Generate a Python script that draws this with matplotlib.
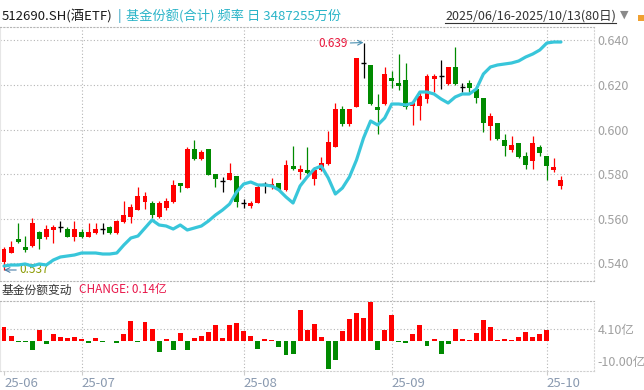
import matplotlib
matplotlib.use("Agg")
import matplotlib.pyplot as plt
from matplotlib.lines import Line2D
from matplotlib.patches import Rectangle
import matplotlib.transforms as mtransforms
import numpy as np
import pandas as pd

plt.rcParams['font.family'] = ['Noto Sans CJK SC', 'DejaVu Sans']

# ---------------- data ----------------
all_days = pd.bdate_range('2025-06-16', '2025-10-13')
dates = [d for d in all_days
         if not (pd.Timestamp('2025-10-01') <= d <= pd.Timestamp('2025-10-08'))]

open_ = [0.5406, 0.5447, 0.5511, 0.5471, 0.5477, 0.5541, 0.5517, 0.5550, 0.5561, 0.5553,
         0.5520, 0.5541, 0.5519, 0.5537, 0.5553, 0.5561, 0.5535, 0.5585, 0.5607, 0.5640,
         0.5675, 0.5669, 0.5607, 0.5648, 0.5675, 0.5759, 0.5738, 0.5912, 0.5868, 0.5912,
         0.5799, 0.5771, 0.5775, 0.5792, 0.5670, 0.5659, 0.5670, 0.5755, 0.5740, 0.5760,
         0.5730, 0.5838, 0.5809, 0.5818, 0.5779, 0.5817, 0.5845, 0.5920, 0.6093, 0.6026,
         0.6100, 0.6297, 0.6289, 0.6100, 0.6114, 0.6231, 0.6207, 0.6222, 0.6105, 0.6105,
         0.6138, 0.6226, 0.6238, 0.6204, 0.6280, 0.6191, 0.6207, 0.6181, 0.6142, 0.6017,
         0.6029, 0.5953, 0.5908, 0.5939, 0.5879, 0.5860, 0.5920, 0.5881, 0.5818, 0.5746]
high_ = [0.5474, 0.5501, 0.5582, 0.5522, 0.5601, 0.5545, 0.5571, 0.5571, 0.5588, 0.5564,
         0.5589, 0.5553, 0.5582, 0.5582, 0.5580, 0.5568, 0.5592, 0.5679, 0.5667, 0.5742,
         0.5720, 0.5679, 0.5679, 0.5691, 0.5772, 0.5759, 0.5922, 0.5952, 0.5910, 0.5912,
         0.5799, 0.5789, 0.5849, 0.5792, 0.5689, 0.5681, 0.5752, 0.5763, 0.5782, 0.5760,
         0.5864, 0.5924, 0.5842, 0.5920, 0.5832, 0.5875, 0.5992, 0.6119, 0.6104, 0.6093,
         0.6320, 0.6390, 0.6289, 0.6159, 0.6280, 0.6264, 0.6339, 0.6298, 0.6124, 0.6169,
         0.6249, 0.6249, 0.6312, 0.6280, 0.6369, 0.6208, 0.6222, 0.6181, 0.6142, 0.6073,
         0.6029, 0.5980, 0.5971, 0.5939, 0.5897, 0.5971, 0.5930, 0.5881, 0.5872, 0.5791]
low_ = [0.5370, 0.5444, 0.5492, 0.5451, 0.5471, 0.5465, 0.5511, 0.5492, 0.5540, 0.5516,
        0.5501, 0.5513, 0.5516, 0.5531, 0.5531, 0.5531, 0.5533, 0.5580, 0.5580, 0.5637,
        0.5643, 0.5604, 0.5604, 0.5640, 0.5670, 0.5720, 0.5738, 0.5862, 0.5862, 0.5796,
        0.5742, 0.5719, 0.5772, 0.5652, 0.5648, 0.5648, 0.5670, 0.5715, 0.5734, 0.5722,
        0.5722, 0.5818, 0.5780, 0.5800, 0.5752, 0.5812, 0.5842, 0.5920, 0.6014, 0.6014,
        0.6100, 0.6232, 0.6109, 0.5981, 0.6109, 0.6184, 0.6175, 0.6091, 0.6020, 0.6042,
        0.6117, 0.6169, 0.6181, 0.6199, 0.6199, 0.6167, 0.6166, 0.6121, 0.5990, 0.5953,
        0.5953, 0.5882, 0.5900, 0.5870, 0.5824, 0.5824, 0.5881, 0.5773, 0.5810, 0.5733]
close_ = [0.5462, 0.5471, 0.5496, 0.5459, 0.5580, 0.5510, 0.5553, 0.5562, 0.5561, 0.5520,
          0.5553, 0.5519, 0.5541, 0.5553, 0.5553, 0.5537, 0.5588, 0.5618, 0.5651, 0.5700,
          0.5700, 0.5616, 0.5669, 0.5678, 0.5750, 0.5747, 0.5912, 0.5868, 0.5898, 0.5796,
          0.5777, 0.5771, 0.5807, 0.5676, 0.5670, 0.5670, 0.5740, 0.5755, 0.5757, 0.5730,
          0.5842, 0.5825, 0.5824, 0.5803, 0.5818, 0.5852, 0.5942, 0.6093, 0.6026, 0.6093,
          0.6319, 0.6297, 0.6114, 0.6088, 0.6249, 0.6219, 0.6196, 0.6099, 0.6117, 0.6150,
          0.6240, 0.6240, 0.6238, 0.6280, 0.6204, 0.6191, 0.6188, 0.6140, 0.6028, 0.6061,
          0.5957, 0.5927, 0.5930, 0.5876, 0.5839, 0.5939, 0.5894, 0.5836, 0.5831, 0.5773]

# fund shares total (亿份)
share_total = [214.60, 215.20, 215.20, 215.80, 214.60, 215.80, 215.20, 218.19, 219.99, 220.59,
               221.19, 222.38, 222.38, 222.38, 221.78, 221.78, 222.38, 227.17, 231.36, 232.56,
               237.35, 242.14, 239.15, 238.55, 236.75, 239.15, 236.16, 237.35, 238.55, 241.54,
               245.14, 248.13, 251.72, 258.91, 263.70, 264.90, 263.10, 263.10, 262.50, 260.11,
               255.92, 252.32, 262.50, 267.89, 272.68, 274.48, 267.29, 257.71, 261.30, 267.89,
               278.07, 291.24, 301.42, 299.03, 303.22, 311.60, 311.60, 311.01, 312.20, 318.79,
               318.79, 317.59, 314.60, 312.20, 315.80, 317.59, 317.59, 320.59, 329.57, 333.76,
               334.96, 335.56, 336.16, 337.35, 339.75, 341.54, 343.94, 348.13, 348.73, 348.73]

# daily change of fund shares (亿份); last day not yet published
share_change = [4.77, 1.88, -0.33, -0.33, -3.00, 3.88, -1.00, 2.55, 1.55, 1.22,
                1.55, 0.78, -0.67, 1.22, -0.33, 0.20, -0.55, 2.55, 6.87, -0.33,
                6.54, 4.20, -3.66, 0.89, -3.00, 2.88, -3.00, 1.22, 1.88, 3.22,
                5.32, 1.22, 5.32, 5.99, 3.55, 1.88, -2.66, 0.89, 0.55, -2.00,
                -4.66, -4.32, 10.50, 3.88, 5.88, 1.55, -9.31, -6.32, 3.55, 7.54,
                9.53, 7.87, 13.20, -3.00, 3.88, 8.87, -0.33, -0.67, 2.55, 5.54,
                -1.66, 0.89, -4.32, -1.00, 4.20, 0.78, 0.55, 2.88, 7.20, 4.77,
                0.55, 0.89, 0.55, 1.55, 3.22, 1.55, 2.55, 3.88, 0.14, np.nan]

price_ticks = [0.540, 0.560, 0.580, 0.600, 0.620, 0.640]
change_ticks = [4.10]

# ---------------- layout ----------------
W, H = 644, 390
fig = plt.figure(figsize=(W / 100, H / 100), dpi=100)


def fx(px):
    return px / W


def fy(py):
    return 1 - py / H


MAIN_TOP, MAIN_BOT = 26.5, 281
SUB_TOP, SUB_BOT = 301, 371
RIGHT = 594

ax = fig.add_axes([0, fy(MAIN_BOT), fx(RIGHT), (MAIN_BOT - MAIN_TOP) / H])
ax2 = fig.add_axes([0, fy(SUB_BOT), fx(RIGHT), (SUB_BOT - SUB_TOP) / H])
axb = ax.twinx()

UP, DOWN, FLAT = '#ff0000', '#008a00', '#000000'
CYAN = '#38c6da'
GRID = '#b5b5b5'
DOT = (0, (1, 2))

x = np.arange(len(dates))
o = np.array(open_)
h = np.array(high_)
l = np.array(low_)
c = np.array(close_)

cols = [UP if cc > oo else (DOWN if cc < oo else FLAT) for oo, cc in zip(o, c)]

# wicks
ax.vlines(x, l, h, colors=cols, linewidth=0.9, zorder=3)
# bodies
body_bot = np.minimum(o, c)
body_h = np.abs(c - o)
ax.bar(x, body_h, bottom=body_bot, width=0.7, color=cols, linewidth=0, zorder=4)
doji = c == o
ax.hlines(o[doji], x[doji] - 0.35, x[doji] + 0.35, colors=FLAT, linewidth=1.0, zorder=4)

ax.set_xlim(-0.567, 83.69)
ax.set_ylim(0.540 - (281 - 263.3) / 2230, 0.640 + (40.3 - 26.5) / 2230)
ax.set_yticks(price_ticks)
ax.set_yticklabels([f'{v:.3f}' for v in price_ticks])
ax.yaxis.tick_right()
ax.yaxis.set_label_position('right')
ax.tick_params(axis='y', which='both', left=False, labelleft=False, right=False,
               labelright=True, length=0, pad=2.5, labelsize=9, labelcolor='#a0a0a0')
ax.set_xticks([])
ax.grid(axis='y', linestyle=DOT, color=GRID, linewidth=0.8)
ax.set_axisbelow(True)
for s in ('top', 'bottom', 'right'):
    ax.spines[s].set_linestyle(DOT)
    ax.spines[s].set_color(GRID)
    ax.spines[s].set_linewidth(0.8)
ax.spines['right'].set_color('#d5d5d5')
ax.spines['left'].set_color('#e6e6e6')

# month separators
month_idx = [0] + [i for i in range(1, len(dates)) if dates[i].month != dates[i - 1].month]
month_lbl = [dates[i].strftime('%y-%m') for i in month_idx]
gap = (SUB_TOP - MAIN_BOT) / (MAIN_BOT - MAIN_TOP)
for m in month_idx[1:]:
    ax.axvline(m, ymin=-gap, ymax=1, clip_on=False, linestyle=DOT, color=GRID,
               linewidth=0.8, zorder=1)
    ax2.axvline(m, linestyle=DOT, color=GRID, linewidth=0.8, zorder=1)

# fund share total line (hidden secondary axis)
axb.plot(x, share_total, color=CYAN, linewidth=2.3, solid_capstyle='round', zorder=5)
axb.set_ylim(348.73 - (281 - 42) / 1.67, 348.73 + (42 - 26.5) / 1.67)
axb.axis('off')

# high / low markers
hi = int(np.argmax(h))
lo = int(np.argmin(l))
axb.annotate(f'{h[hi]:.3f}', xy=(hi, h[hi]), xycoords=ax.transData,
             xytext=(-16, -1), textcoords='offset pixels', ha='right', va='center',
             fontsize=8.5, color='#e8173c', annotation_clip=False,
             arrowprops=dict(arrowstyle='->', color='#4a8fb0', lw=0.8,
                             shrinkA=0, shrinkB=0))
axb.annotate(f'{l[lo]:.3f}', xy=(lo, l[lo]), xycoords=ax.transData,
             xytext=(15, 0), textcoords='offset pixels', ha='left', va='center',
             fontsize=8.5, color='#8a9a00', annotation_clip=False,
             arrowprops=dict(arrowstyle='->', color='#4a7fa8', lw=0.8,
                             shrinkA=0, shrinkB=0))

# ---------------- change sub-panel ----------------
chg = np.array(share_change, dtype=float)
valid = ~np.isnan(chg)
bcols = [UP if v >= 0 else DOWN for v in chg[valid]]
ax2.bar(x[valid], chg[valid], width=0.7, color=bcols, linewidth=0, zorder=3)
ax2.set_xlim(-0.567, 83.69)
ax2.set_ylim(-10, 13.48)
ax2.set_yticks(change_ticks)
ax2.set_yticklabels([f'{v:.2f}亿' for v in change_ticks])
ax2.yaxis.tick_right()
ax2.tick_params(axis='y', length=0, pad=2.5, labelsize=9, labelcolor='#a0a0a0')
ax2.grid(axis='y', linestyle=DOT, color=GRID, linewidth=0.8)
ax2.set_axisbelow(True)
ax2.set_xticks(month_idx)
ax2.set_xticklabels(month_lbl, ha='left')
ax2.tick_params(axis='x', length=3, color='#cccccc', labelsize=9.5,
                labelcolor='#8a9ab0', pad=1.5)
for s in ('top', 'bottom', 'right'):
    ax2.spines[s].set_linestyle(DOT)
    ax2.spines[s].set_color(GRID)
    ax2.spines[s].set_linewidth(0.8)
ax2.spines['bottom'].set_color('#d0d0d0')
ax2.spines['right'].set_color('#d5d5d5')
ax2.spines['left'].set_color('#e6e6e6')
off = mtransforms.ScaledTranslation(3 / 100, 2 / 100, fig.dpi_scale_trans)
ax2.text(1.0, -10, '-10.00亿', transform=ax2.get_yaxis_transform() + off,
         ha='left', va='bottom', fontsize=9, color='#a0a0a0', clip_on=False)

# ---------------- header texts ----------------
fig.text(fx(2), fy(16), '512690.SH(酒ETF)', ha='left', va='center',
         fontsize=9.5, color='#1a1a1a')
fig.text(fx(119), fy(16), '|', ha='center', va='center', fontsize=9.5, color='#2a9fc0')
fig.text(fx(126), fy(16), '基金份额(合计) 频率 日 3487255万份', ha='left', va='center',
         fontsize=9.5, color='#2ab4c8')
date_txt = fig.text(fx(616), fy(16),
                    f'{dates[0]:%Y/%m/%d}-{dates[-1]:%Y/%m/%d}({len(dates)}日)',
                    ha='right', va='center', fontsize=9, color='#333333')
fig.text(fx(624), fy(15), '▼', ha='center', va='center', fontsize=8,
         color='#8a8a8a', family=['DejaVu Sans'])
fig.add_artist(Rectangle((fx(638), fy(21)), fx(6), 6 / H, transform=fig.transFigure,
                         color='#f0a030', linewidth=0))

fig.text(fx(2), fy(290), '基金份额变动', ha='left', va='center',
         fontsize=8.5, color='#333333')
last_chg = chg[valid][-1]
fig.text(fx(79), fy(290), f'CHANGE: {last_chg:.2f}亿', ha='left', va='center',
         fontsize=8.5, color='#e8174a')

fig.canvas.draw()
bb = date_txt.get_window_extent()
fig.add_artist(Line2D([bb.x0 / W, bb.x1 / W], [fy(22.6), fy(22.6)],
                      transform=fig.transFigure, color='#333333', linewidth=0.8))

fig.savefig('out.png', dpi=100)
